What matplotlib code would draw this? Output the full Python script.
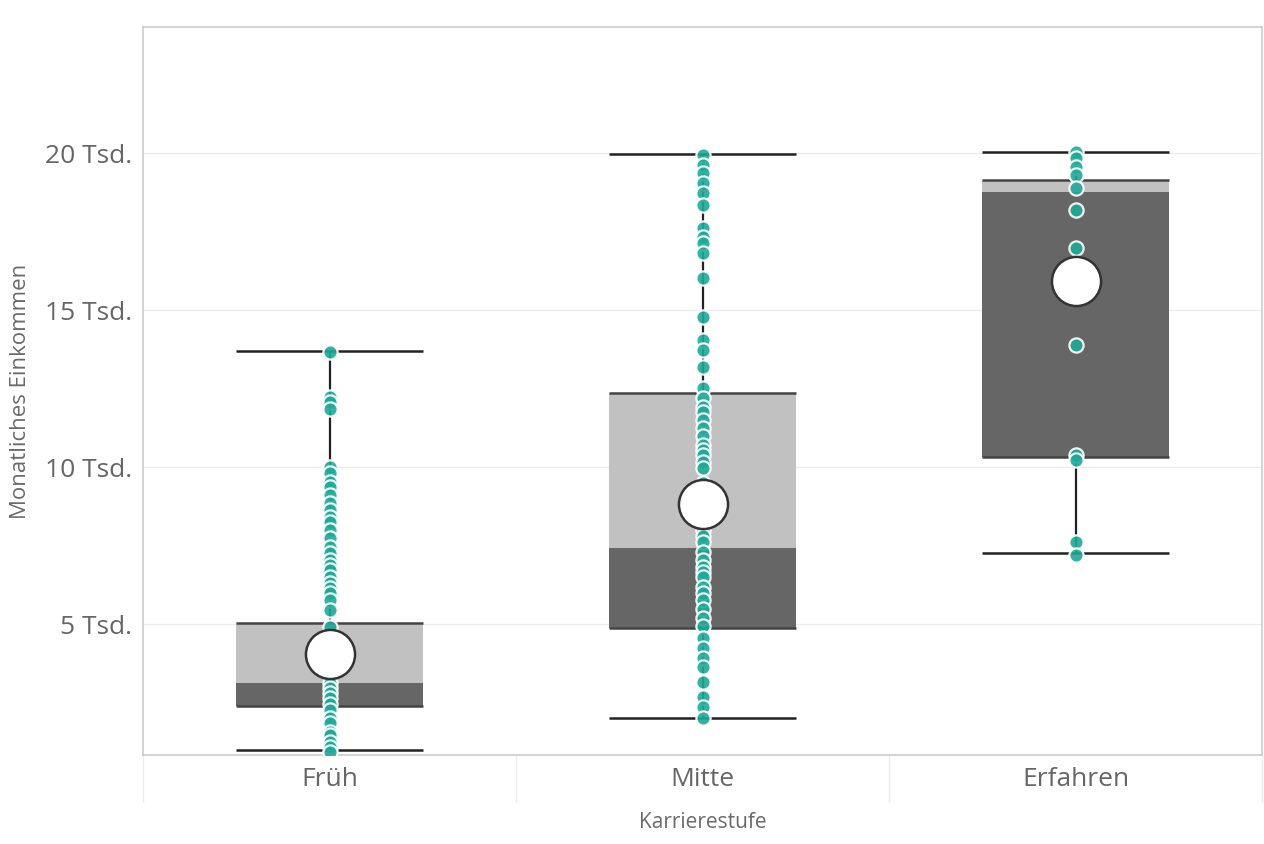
import matplotlib
matplotlib.use("Agg")
import matplotlib.pyplot as plt
from matplotlib.lines import Line2D

# ---- data ----
categories = ["Früh", "Mitte", "Erfahren"]
whisker_low = [990, 2010, 7260]
q1 = [2390, 4870, 10320]
median = [3120, 7420, 18760]
q3 = [5030, 12360, 19140]
whisker_high = [13690, 19970, 20030]
mean = [4045, 8820, 15920]

points_frueh = [13670, 12240, 12080, 11850, 10010, 9800, 9530, 9370, 9110, 8840,
                8630, 8420, 8260, 7990, 7730, 7460, 7250, 7040, 6880, 6720, 6510,
                6300, 6140, 5980, 5770, 5450, 4920, 4600, 4300, 3900, 3500, 3110,
                2950, 2790, 2630, 2460, 2260, 2000, 1840, 1570, 1470, 1250, 1090, 930]
points_mitte = [19940, 19620, 19350, 19040, 18720, 18350, 17600, 17340, 17120,
                16810, 16010, 14790, 14050, 13730, 13200, 12510, 12190, 11920,
                11750, 11500, 11250, 11000, 10700, 10550, 10380, 10150, 9960, 9500,
                9000, 8500, 7990, 7800, 7620, 7300, 7050, 6830, 6650, 6510, 6190,
                6000, 5770, 5480, 5180, 4950, 4540, 4230, 3910, 3640, 3160,
                2690, 2370, 2000]
points_erfahren = [20045, 19830, 19570, 19300, 18880, 18190, 16970, 13890,
                   10380, 10220, 7620, 7200]
points = [points_frueh, points_mitte, points_erfahren]

yticks = [5000, 10000, 15000, 20000]
ytick_labels = ["5 Tsd.", "10 Tsd.", "15 Tsd.", "20 Tsd."]

# ---- style ----
plt.rcParams['font.family'] = ['Open Sans', 'DejaVu Sans']
light = "#c1c1c1"
dark = "#666666"
teal = "#1fa999"
box_w = 0.5

fig = plt.figure(figsize=(12.64, 8.44), dpi=100)
ax = fig.add_axes([143 / 1264, 89 / 844, 1119 / 1264, 728 / 844])

xs = list(range(len(categories)))

# grid
for yv in yticks:
    ax.axhline(yv, color="#ebebeb", lw=0.9, zorder=0)

# boxes
ax.bar(xs, [a - b for a, b in zip(q3, median)], bottom=median, width=box_w,
       color=light, zorder=1)
ax.bar(xs, [a - b for a, b in zip(median, q1)], bottom=q1, width=box_w,
       color=dark, zorder=1)
for i in xs:
    ax.hlines([q1[i], q3[i]], i - box_w / 2, i + box_w / 2, color="#444444",
              lw=1.8, zorder=2)
    ax.hlines([whisker_low[i], whisker_high[i]], i - box_w / 2, i + box_w / 2,
              color="#222222", lw=1.8, zorder=2)
    ax.vlines(i, q3[i], whisker_high[i], color="#222222", lw=1.6, zorder=2)
    ax.vlines(i, whisker_low[i], q1[i], color="#222222", lw=1.6, zorder=2)

# points
for i in xs:
    ax.scatter([i] * len(points[i]), points[i], s=105, color=teal, alpha=0.9,
               edgecolors="white", linewidths=1.6, zorder=3)

# means
ax.scatter(xs, mean, s=1250, color="white", edgecolors="#333333",
           linewidths=1.8, zorder=4)

ax.set_xlim(-0.5, 2.5)
ax.set_ylim(828, 24013)
ax.set_yticks(yticks)
ax.set_yticklabels(ytick_labels)
ax.set_xticks(xs)
ax.set_xticklabels(categories)
ax.tick_params(axis="both", length=0, labelsize=19, labelcolor="#666666")
ax.tick_params(axis="y", pad=8)
ax.tick_params(axis="x", pad=9)
for s in ax.spines.values():
    s.set_color("#c8c8c8")
    s.set_linewidth(1.1)

# category separators below axis
for xb in [-0.5, 0.5, 1.5, 2.5]:
    ax.add_line(Line2D([xb, xb], [0, -47 / 728], transform=ax.get_xaxis_transform(),
                       color="#ececec", lw=1, clip_on=False))

ax.set_xlabel("Karrierestufe", fontsize=15, color="#6a6a6a", labelpad=14)
ax.set_ylabel("Monatliches Einkommen", fontsize=16, color="#6a6a6a", labelpad=10)

fig.savefig("out.png", dpi=100, facecolor="white")
